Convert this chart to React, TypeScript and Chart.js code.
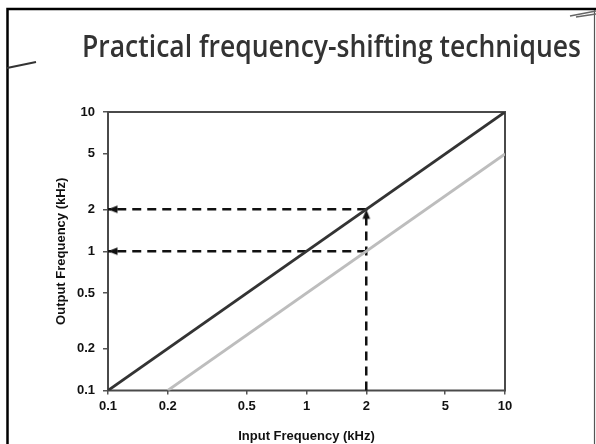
import { useEffect, useRef } from "react";
import { Chart, registerables } from "chart.js";

Chart.register(...registerables);

const TITLE = "Practical frequency-shifting techniques";
const X_TITLE = "Input Frequency (kHz)";
const Y_TITLE = "Output Frequency (kHz)";

// Log axis range and the labelled tick values (kHz)
const AXIS_MIN = 0.1;
const AXIS_MAX = 10;
const TICK_VALUES = [0.1, 0.2, 0.5, 1, 2, 5, 10];

// Unshifted mapping: output equals input
const unshiftedIn = [0.1, 10];
const unshiftedOut = [0.1, 10];

// Shifted mapping: output is one octave below the input
const shiftedIn = [0.2, 10];
const shiftedOut = [0.1, 5];

const exampleIn = 2;
const exampleOutUnshifted = 2;
const exampleOutShifted = 1;

const toPoints = (xs: number[], ys: number[]) => xs.map((x, i) => ({ x, y: ys[i] }));

const TICK_FONT = { family: "Arial, 'Liberation Sans', sans-serif", size: 13, weight: "bold" as const };
const TITLE_FONT = { family: "Arial, 'Liberation Sans', sans-serif", size: 13, weight: "bold" as const };

// Arrowhead sprite: tip at the sprite centre, pointing up, body below it
function makeArrowhead(): HTMLCanvasElement {
  const c = document.createElement("canvas");
  c.width = 24;
  c.height = 24;
  const g = c.getContext("2d")!;
  g.fillStyle = "#111111";
  g.beginPath();
  g.moveTo(12, 12);
  g.lineTo(15.8, 21.5);
  g.lineTo(8.2, 21.5);
  g.closePath();
  g.fill();
  return c;
}

// Slide frame, heading and the plot box outline
const slidePlugin = {
  id: "slide",
  beforeDraw(chart: Chart) {
    const { ctx, width, height } = chart;
    ctx.save();
    ctx.fillStyle = "#ffffff";
    ctx.fillRect(0, 0, width, height);

    ctx.strokeStyle = "#000000";
    ctx.lineWidth = 2.5;
    ctx.beginPath();
    ctx.moveTo(7.5, height);
    ctx.lineTo(7.5, 9);
    ctx.lineTo(width, 9);
    ctx.stroke();

    ctx.strokeStyle = "#555555";
    ctx.lineWidth = 1.2;
    ctx.beginPath();
    ctx.moveTo(594.5, 10);
    ctx.lineTo(594.5, height);
    ctx.stroke();

    // small page-corner strokes
    ctx.strokeStyle = "#333333";
    ctx.lineWidth = 2;
    ctx.beginPath();
    ctx.moveTo(7, 68);
    ctx.lineTo(36, 62);
    ctx.stroke();
    ctx.strokeStyle = "#666666";
    ctx.lineWidth = 1.5;
    ctx.beginPath();
    ctx.moveTo(570, 16);
    ctx.lineTo(596, 11);
    ctx.moveTo(576, 17);
    ctx.lineTo(596, 14);
    ctx.stroke();

    // heading, condensed horizontally to the slide's title width
    ctx.fillStyle = "#333333";
    ctx.font = "600 30px 'Open Sans', 'Liberation Sans', sans-serif";
    ctx.textAlign = "left";
    ctx.textBaseline = "alphabetic";
    const titleLeft = 82;
    const titleWidth = 499;
    const natural = ctx.measureText(TITLE).width;
    ctx.translate(titleLeft, 57);
    ctx.scale(titleWidth / natural, 1);
    ctx.fillText(TITLE, 0, 0);
    ctx.restore();
  },
  beforeDatasetsDraw(chart: Chart) {
    const { ctx, chartArea } = chart;
    ctx.save();
    ctx.strokeStyle = "#4a4a4a";
    ctx.lineWidth = 2;
    ctx.strokeRect(chartArea.left, chartArea.top, chartArea.right - chartArea.left, chartArea.bottom - chartArea.top);
    ctx.restore();
  },
};

const setTicks = (scale: any) => {
  scale.ticks = TICK_VALUES.map((value) => ({ value }));
};

export default function App() {
  const canvasRef = useRef<HTMLCanvasElement | null>(null);

  useEffect(() => {
    const canvas = canvasRef.current;
    if (!canvas) return;

    const arrowhead = makeArrowhead();
    const dashed = {
      borderColor: "#111111",
      backgroundColor: "#111111",
      borderWidth: 2.5,
      borderDash: [9, 6],
      pointStyle: arrowhead,
      pointHoverRadius: 0,
      showLine: true,
      clip: false as const,
    };

    const chart = new Chart(canvas, {
      type: "scatter",
      data: {
        datasets: [
          {
            label: "Unshifted",
            data: toPoints(unshiftedIn, unshiftedOut),
            borderColor: "#333333",
            borderWidth: 2.8,
            pointRadius: 0,
            showLine: true,
          },
          {
            label: "Shifted",
            data: toPoints(shiftedIn, shiftedOut),
            borderColor: "#bdbdbd",
            borderWidth: 2.8,
            pointRadius: 0,
            showLine: true,
          },
          {
            ...dashed,
            label: "Input",
            data: [
              { x: exampleIn, y: AXIS_MIN },
              { x: exampleIn, y: exampleOutUnshifted },
            ],
            pointRadius: [0, 5],
            rotation: 0,
          },
          {
            ...dashed,
            label: "Unshifted output",
            data: [
              { x: exampleIn, y: exampleOutUnshifted },
              { x: AXIS_MIN, y: exampleOutUnshifted },
            ],
            pointRadius: [0, 5],
            rotation: 270,
          },
          {
            ...dashed,
            label: "Shifted output",
            data: [
              { x: exampleIn, y: exampleOutShifted },
              { x: AXIS_MIN, y: exampleOutShifted },
            ],
            pointRadius: [0, 5],
            rotation: 270,
          },
        ],
      },
      options: {
        animation: false,
        responsive: false,
        events: [],
        layout: { padding: { left: 48, top: 112, right: 91, bottom: 0 } },
        plugins: {
          legend: { display: false },
          title: { display: false },
          tooltip: { enabled: false },
        },
        scales: {
          x: {
            type: "logarithmic",
            min: AXIS_MIN,
            max: AXIS_MAX,
            afterBuildTicks: setTicks,
            afterFit: (scale: any) => {
              scale.height = 53.5;
            },
            border: { display: false },
            grid: { drawOnChartArea: false, drawTicks: true, tickLength: 4, color: "#555555", lineWidth: 1.5 },
            ticks: {
              autoSkip: false,
              maxRotation: 0,
              padding: 4,
              color: "#111111",
              font: TICK_FONT,
              callback: (v: any) => String(v),
            },
            title: { display: true, text: X_TITLE, color: "#111111", font: TITLE_FONT, padding: { top: 0, bottom: 0 } },
          },
          y: {
            type: "logarithmic",
            min: AXIS_MIN,
            max: AXIS_MAX,
            afterBuildTicks: setTicks,
            afterFit: (scale: any) => {
              scale.width = 60;
            },
            border: { display: false },
            grid: { drawOnChartArea: false, drawTicks: true, tickLength: 5, color: "#555555", lineWidth: 1.5 },
            ticks: {
              autoSkip: false,
              padding: 8,
              color: "#111111",
              font: TICK_FONT,
              callback: (v: any) => String(v),
            },
            title: { display: true, text: Y_TITLE, color: "#111111", font: TITLE_FONT, padding: { top: 6, bottom: 0 } },
          },
        },
      },
      plugins: [slidePlugin],
    });

    return () => chart.destroy();
  }, []);

  return (
    <canvas
      ref={canvasRef}
      width={596}
      height={444}
      style={{ position: "fixed", left: 0, top: 0, width: 596, height: 444, display: "block" }}
    />
  );
}
